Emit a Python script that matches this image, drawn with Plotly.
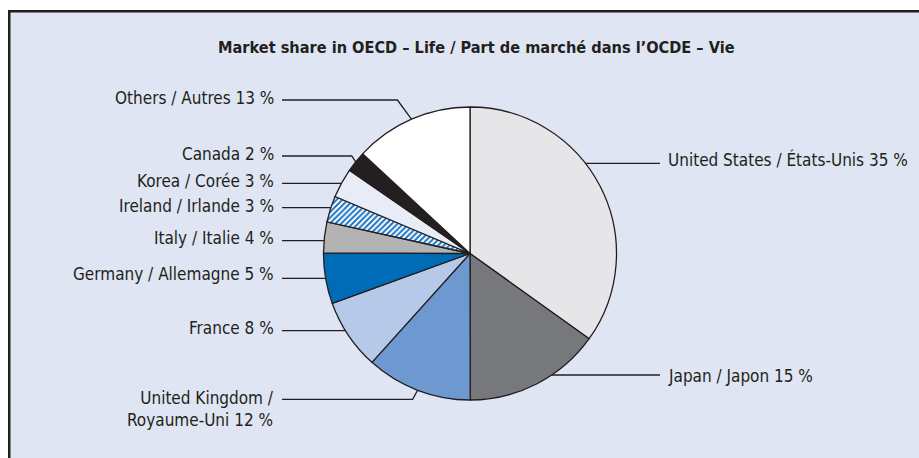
import math
import plotly.graph_objects as go

W, H = 919, 458

# ---- data ----
categories = ["United States / États-Unis", "Japan / Japon", "United Kingdom / Royaume-Uni",
              "France", "Germany / Allemagne", "Italy / Italie", "Ireland / Irlande",
              "Korea / Corée", "Canada", "Others / Autres"]
shares = [34.9, 15.1, 11.7, 7.8, 5.6, 3.4, 2.9, 3.25, 2.3, 13.1]
label_texts = ["United States / États-Unis 35 %", "Japan / Japon 15 %",
               "United Kingdom /<br>Royaume-Uni 12 %", "France 8 %",
               "Germany / Allemagne 5 %", "Italy / Italie 4 %", "Ireland / Irlande 3 %",
               "Korea / Corée 3 %", "Canada 2 %", "Others / Autres 13 %"]
title_text = "Market share in OECD – Life / Part de marché dans l’OCDE – Vie"

# ---- styles ----
colors = ["#e6e6e8", "#77787b", "#6e98d0", "#b6c9e8", "#006bb6", "#b3b3b3",
          "#ffffff", "#e8ecf7", "#231f20", "#ffffff"]
patterns = ["", "", "", "", "", "", "/", "", "", ""]
pattern_fg = ["#1a73c4"] * 10
BG = "#dfe5f2"
INK = "#231f20"
FONT = "DejaVu Sans Condensed"

# ---- layout geometry (page pixels; the page body adds an 8 px offset) ----
OFF = 8
cx, cy, r = 470, 253.5, 146.5
side = ["R", "R", "L", "L", "L", "L", "L", "L", "L", "L"]
line_y = [163.3, 375, 399.3, 330.7, 278.3, 240.7, 207.7, 183.3, 156, 100]
bend = [None, None, 5, None, None, None, None, None, 4, 14]  # None: straight line
text_dy = [-4, 1, -2, -3, -4, -3, -2, -2, -2, -2]
LEFT_LINE_X, RIGHT_LINE_X = 282, 660
LEFT_TEXT_X, RIGHT_TEXT_X = 276, 666


def px(x):
    return (x - OFF) / W


def py(y):
    return 1 - (y - OFF) / H


fig = go.Figure()
fig.add_trace(go.Pie(
    labels=categories, values=shares, sort=False, direction="clockwise", rotation=0,
    textinfo="none", hoverinfo="label+percent", showlegend=False,
    marker=dict(colors=colors, line=dict(color=INK, width=1.3),
                pattern=dict(shape=patterns, fgcolor=pattern_fg, bgcolor="#ffffff",
                             size=4, solidity=0.5)),
    domain=dict(x=[px(cx - r), px(cx + r)], y=[py(cy + r), py(cy - r)]),
))

shapes = [
    dict(type="rect", xref="paper", yref="paper", x0=0, x1=px(10), y0=0, y1=1,
         fillcolor="#ffffff", line=dict(width=0), layer="below"),
    dict(type="rect", xref="paper", yref="paper", x0=0, x1=1, y0=py(10), y1=1,
         fillcolor="#ffffff", line=dict(width=0), layer="below"),
    dict(type="line", xref="paper", yref="paper", x0=px(9.2), x1=px(9.2), y0=0,
         y1=py(9.9), line=dict(color=INK, width=2.6)),
    dict(type="line", xref="paper", yref="paper", x0=px(7.9), x1=1, y0=py(11.2),
         y1=py(11.2), line=dict(color=INK, width=2.6)),
]
annotations = [dict(text="<b>" + title_text + "</b>", x=px(476), y=py(47), xref="paper",
                    yref="paper", showarrow=False, xanchor="center", yanchor="middle",
                    font=dict(family=FONT, size=16.2, color=INK))]

total = sum(shares)
cum = 0
for i, v in enumerate(shares):
    a0 = cum / total * 360
    cum += v
    a1 = cum / total * 360
    amid = math.radians((a0 + a1) / 2)
    ly = line_y[i]
    if bend[i] is None:
        dy = ly - cy
        dx = math.sqrt(max(r * r - dy * dy, 0))
        ax = cx + dx if side[i] == "R" else cx - dx
        ay = ly
        pts = [(ax, ay)]
    else:
        ax = cx + r * math.sin(amid)
        ay = cy - r * math.cos(amid)
        bx = ax - bend[i] if side[i] == "L" else ax + bend[i]
        pts = [(bx, ly), (ax, ay)]
    sx = LEFT_LINE_X if side[i] == "L" else RIGHT_LINE_X
    path = "M {} {}".format(px(sx), py(ly))
    for (x, y) in pts:
        path += " L {} {}".format(px(x), py(y))
    shapes.append(dict(type="path", xref="paper", yref="paper", path=path,
                       line=dict(color=INK, width=1.3)))
    ty = ly + text_dy[i]
    multi = "<br>" in label_texts[i]
    annotations.append(dict(
        text=label_texts[i], xref="paper", yref="paper", showarrow=False,
        x=px(LEFT_TEXT_X if side[i] == "L" else RIGHT_TEXT_X),
        y=py(ty - 11 if multi else ty),
        xanchor="right" if side[i] == "L" else "left",
        yanchor="top" if multi else "middle",
        align="right" if side[i] == "L" else "left",
        font=dict(family=FONT, size=17, color=INK)))

fig.update_layout(width=W, height=H, margin=dict(l=0, r=0, t=0, b=0),
                  paper_bgcolor=BG, shapes=shapes, annotations=annotations)
fig.write_html("out.html", post_script=(
    "document.body.style.margin='8px 0 0 8px';"
    "document.documentElement.style.overflow='hidden';"
    "document.body.style.overflow='hidden';"))
